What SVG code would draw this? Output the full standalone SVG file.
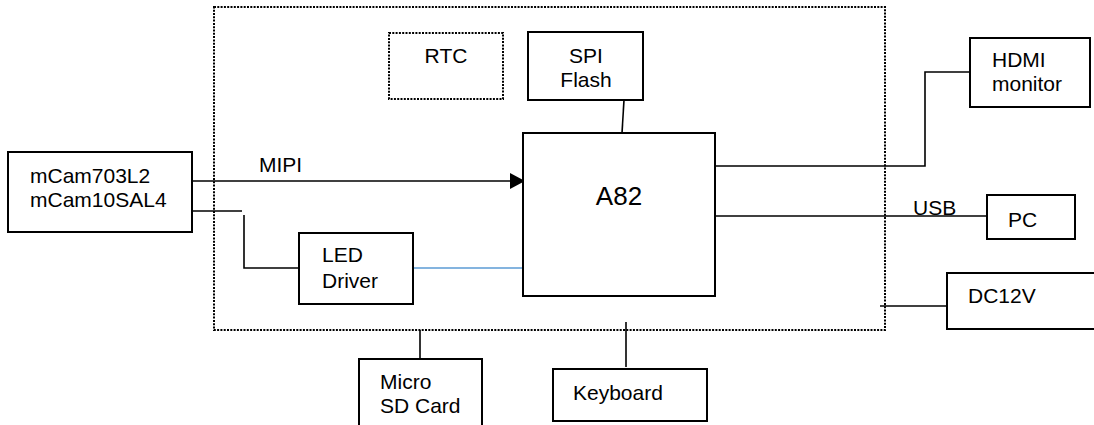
<svg xmlns="http://www.w3.org/2000/svg" width="1094" height="425" viewBox="0 0 1094 425">
<style>
.box{fill:#fff;stroke:#000;stroke-width:2}
.dot{fill:none;stroke:#000;stroke-width:2;stroke-dasharray:2 1.3}
.ln{fill:none;stroke:#000;stroke-width:1.6}
.t{font-family:"Liberation Sans",Arial,sans-serif;font-size:21px;fill:#000}
</style>
<rect width="1094" height="425" fill="#fff"/>
<g id="board"><rect class="dot" x="214" y="7" width="671" height="323"/></g>
<g id="connectors">
<line class="ln" x1="624" y1="100" x2="622" y2="133"/>
<line class="ln" x1="192" y1="181" x2="512" y2="181"/>
<polygon points="510,173 525,181 510,189" fill="#000"/>
<line class="ln" x1="192" y1="211" x2="242" y2="211"/>
<polyline class="ln" points="244,215 244,268 299,268"/>
<line x1="413" y1="268" x2="523" y2="268" stroke="#5b9bd5" stroke-width="1.6"/>
<polyline class="ln" points="715,166 925,166 925,72 970,72"/>
<line class="ln" x1="711" y1="216" x2="987" y2="216"/>
<line class="ln" x1="880" y1="306" x2="947" y2="306"/>
<line class="ln" x1="420" y1="330" x2="420" y2="359"/>
<line class="ln" x1="626" y1="322" x2="626" y2="367"/>
<text class="t" x="259" y="172">MIPI</text>
<text class="t" x="913" y="215">USB</text>
</g>
<g id="rtc"><rect class="dot" x="389" y="33" width="114" height="66"/><text class="t" x="446" y="63" text-anchor="middle">RTC</text></g>
<g id="spiflash"><rect class="box" x="528" y="32" width="115" height="68"/><text class="t" x="586" y="63" text-anchor="middle">SPI</text><text class="t" x="586" y="87" text-anchor="middle">Flash</text></g>
<g id="a82"><rect class="box" x="523" y="133" width="192" height="163"/><text class="t" x="619" y="205" text-anchor="middle" style="font-size:26px">A82</text></g>
<g id="mcam"><rect class="box" x="8" y="152" width="184" height="80"/><text class="t" x="30" y="183">mCam703L2</text><text class="t" x="30" y="207">mCam10SAL4</text></g>
<g id="led"><rect class="box" x="299" y="233" width="114" height="71"/><text class="t" x="322" y="262">LED</text><text class="t" x="322" y="288">Driver</text></g>
<g id="hdmi"><rect class="box" x="970" y="38" width="120" height="69"/><text class="t" x="992" y="67">HDMI</text><text class="t" x="992" y="91">monitor</text></g>
<g id="pc"><rect class="box" x="987" y="195" width="88" height="44"/><text class="t" x="1008" y="227">PC</text></g>
<g id="dc12v"><rect class="box" x="947" y="273" width="160" height="56"/><text class="t" x="968" y="303">DC12V</text></g>
<g id="microsd"><rect class="box" x="359" y="359" width="123" height="80"/><text class="t" x="380" y="389">Micro</text><text class="t" x="380" y="413">SD Card</text></g>
<g id="keyboard"><rect class="box" x="553" y="369" width="154" height="52"/><text class="t" x="573" y="400">Keyboard</text></g>
</svg>
